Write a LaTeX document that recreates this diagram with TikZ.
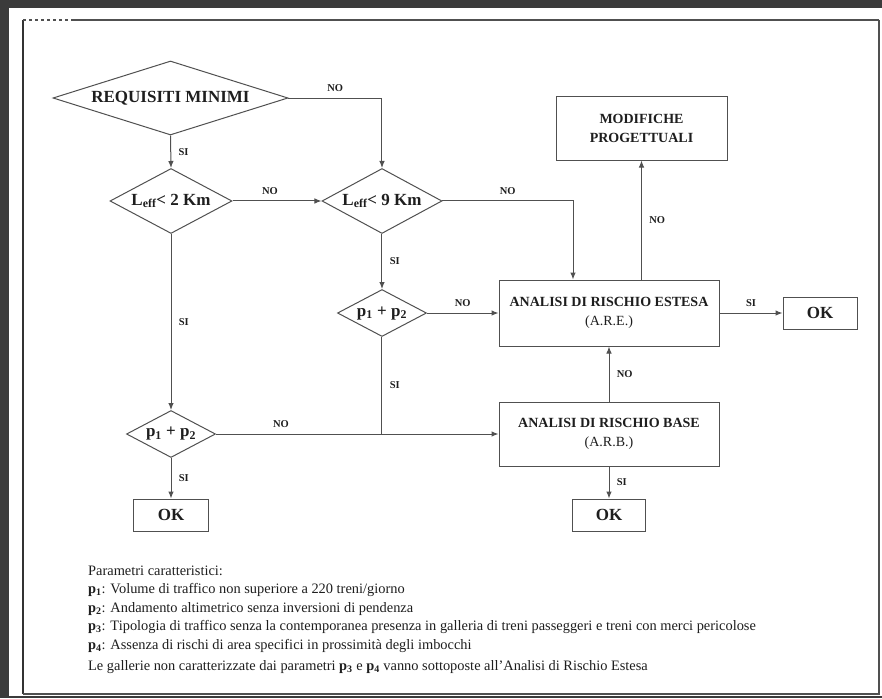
\documentclass[tikz,border=0pt]{standalone}
\usepackage{fontspec}
\setmainfont{Liberation Serif}
\usetikzlibrary{shapes.geometric,arrows.meta}
\definecolor{bgdark}{HTML}{3B3B3B}
\definecolor{linegray}{HTML}{505050}
\definecolor{textblack}{HTML}{1E1E1E}
\newcommand{\ppar}[1]{\textbf{p\textsubscript{#1}}}
\begin{document}
\begin{tikzpicture}[x=30pt,y=30pt,>={Latex[length=7pt,width=5.5pt]},
  line/.style={draw=linegray,line width=1pt},
  dec/.style={diamond,draw=linegray,line width=1pt,fill=white,inner sep=0pt,aspect=2,text=textblack,font=\bfseries\fontsize{17}{20}\selectfont},
  blk/.style={draw=linegray,line width=1pt,fill=white,align=center,inner sep=0pt,text=textblack,font=\bfseries\fontsize{14}{19}\selectfont},
  okbox/.style={blk,minimum width=74pt,minimum height=32pt,font=\bfseries\fontsize{17}{20}\selectfont},
  lab/.style={text=textblack,font=\bfseries\fontsize{10.5}{12}\selectfont},
  leg/.style={anchor=west,inner sep=0pt,text=textblack,font=\fontsize{14.4}{17}\selectfont}]
% page
\fill[bgdark] (0,0) rectangle (29.4,23.267);
\useasboundingbox (0,0) rectangle (29.4,23.267);
\fill[white] (0.3,0.067) rectangle (29.4,23.0);
\draw[black!80,line width=1.2pt] (0.767,22.6) -- (0.767,0.133);
\draw[linegray,line width=1.2pt,dashed] (0.767,22.6) -- (2.433,22.6);
\draw[linegray,line width=1.2pt] (2.433,22.6) -- (29.3,22.6);
\draw[linegray,line width=2pt] (29.3,22.6) -- (29.3,0.133) -- (0.767,0.133);
% decisions
\node[dec,minimum width=235pt,minimum height=74pt,aspect=3.2] (req) at (5.683,20.0) {REQUISITI MINIMI};
\node[dec,minimum width=122pt,minimum height=65pt] (l2) at (5.7,16.567) {L\textsubscript{eff}< 2 Km};
\node[dec,minimum width=120pt,minimum height=65pt] (l9) at (12.733,16.567) {L\textsubscript{eff}< 9 Km};
\node[dec,minimum width=89pt,minimum height=47pt] (pa) at (12.733,12.833) {p\textsubscript{1} + p\textsubscript{2}};
\node[dec,minimum width=89pt,minimum height=47pt] (pb) at (5.7,8.8) {p\textsubscript{1} + p\textsubscript{2}};
% boxes
\node[blk,minimum width=220pt,minimum height=66pt] (are) at (20.3,12.833) {ANALISI DI RISCHIO ESTESA\\ {\mdseries (A.R.E.)}};
\node[blk,minimum width=220pt,minimum height=64pt] (arb) at (20.3,8.8) {ANALISI DI RISCHIO BASE\\ {\mdseries (A.R.B.)}};
\node[blk,minimum width=171pt,minimum height=64pt] (mod) at (21.383,19.0) {MODIFICHE\\ PROGETTUALI};
\node[okbox] (ok1) at (27.333,12.833) {OK};
\node[okbox,minimum width=73pt] (ok2) at (20.3,6.1) {OK};
\node[okbox,minimum width=75pt] (ok3) at (5.7,6.1) {OK};
\coordinate (areIn) at ([xshift=-36pt]are.north);
% connectors
\draw[->,line] (req.south) -- (l2.north) node[lab,midway,right=4pt] {SI};
\draw[->,line] (req.east) -| (l9.north) node[lab,pos=0.25,above=3pt] {NO};
\draw[->,line] (l2.east) -- (l9.west) node[lab,midway,above=3pt,xshift=-7pt] {NO};
\draw[->,line] (l9.east) -| (areIn) node[lab,pos=0.25,above=3pt] {NO};
\draw[->,line] (l9.south) -- (pa.north) node[lab,midway,right=4pt] {SI};
\draw[->,line] (pa.east) -- (are.west) node[lab,midway,above=3pt] {NO};
\draw[->,line] (are.east) -- (ok1.west) node[lab,midway,above=3pt] {SI};
\draw[->,line] (mod.south |- are.north) -- (mod.south) node[lab,midway,right=4pt] {NO};
\draw[->,line] (l2.south) -- (pb.north) node[lab,midway,right=4pt] {SI};
\draw[->,line] (pb.east) -- (arb.west) node[lab,pos=0.23,above=3pt] {NO};
\draw[line] (pa.south) -- (pa.south |- pb.east) node[lab,midway,right=4pt] {SI};
\draw[->,line] (arb.north) -- (are.south) node[lab,midway,right=4pt] {NO};
\draw[->,line] (arb.south) -- (ok2.north) node[lab,midway,right=4pt] {SI};
\draw[->,line] (pb.south) -- (ok3.north) node[lab,midway,right=4pt] {SI};
% legend
\node[leg] (leg0) at (2.933,4.233) {Parametri caratteristici:};
\node[leg] (leg1) at (2.933,3.6) {\ppar{1}: Volume di traffico non superiore a 220 treni/giorno};
\node[leg] (leg2) at (2.933,2.967) {\ppar{2}: Andamento altimetrico senza inversioni di pendenza};
\node[leg] (leg3) at (2.933,2.367) {\ppar{3}: Tipologia di traffico senza la contemporanea presenza in galleria di treni passeggeri e treni con merci pericolose};
\node[leg] (leg4) at (2.933,1.733) {\ppar{4}: Assenza di rischi di area specifici in prossimità degli imbocchi};
\node[leg] (leg5) at (2.933,1.033) {Le gallerie non caratterizzate dai parametri \ppar{3} e \ppar{4} vanno sottoposte all'Analisi di Rischio Estesa};
\end{tikzpicture}
\end{document}
